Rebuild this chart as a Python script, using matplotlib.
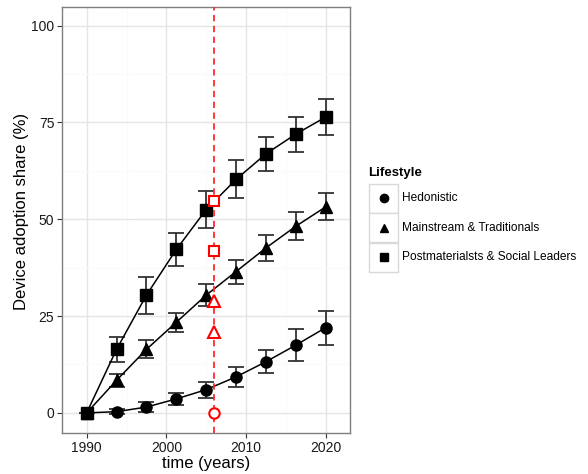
import matplotlib.pyplot as plt
import numpy as np

plt.rcParams['font.family'] = ['Liberation Sans', 'DejaVu Sans']

years = [1990, 1993.75, 1997.5, 2001.25, 2005, 2008.75, 2012.5, 2016.25, 2020]

hedonistic = [0, 0.3, 1.5, 3.6, 6.0, 9.3, 13.2, 17.5, 22.0]
hedonistic_err = [0, 0.6, 1.2, 1.6, 2.1, 2.5, 3.0, 4.1, 4.4]

mainstream = [0, 8.4, 16.4, 23.4, 30.4, 36.5, 42.6, 48.2, 53.2]
mainstream_err = [0, 1.7, 2.3, 2.5, 2.8, 3.1, 3.4, 3.6, 3.5]

postmat = [0, 16.4, 30.4, 42.2, 52.5, 60.3, 66.9, 72.0, 76.4]
postmat_err = [0, 3.3, 4.8, 4.2, 4.7, 4.9, 4.4, 4.5, 4.6]

labels = ["Hedonistic", "Mainstream & Traditionals", "Postmaterialsts & Social Leaders"]
markers = ["o", "^", "s"]

# open red markers on the cut-off line
cut_year = 2006
red_circle = [0]
red_triangle = [28.9, 21.0]
red_square = [54.7, 41.7]

fig = plt.figure(figsize=(5.88, 4.74), dpi=100)
ax = fig.add_axes([0.1054, 0.0865, 0.4898, 0.8985])

series = [(hedonistic, hedonistic_err), (mainstream, mainstream_err), (postmat, postmat_err)]
sizes = [8, 8.5, 8]
for (vals, errs), m, lab, ms in zip(series, markers, labels, sizes):
    ax.errorbar(years, vals, yerr=errs, fmt="none", ecolor="#333333",
                elinewidth=1.3, capsize=5.5, capthick=1.3, zorder=3)
    ax.plot(years, vals, color="black", lw=1.1, zorder=4)
    ax.plot(years, vals, ls="none", marker=m, ms=ms, color="black", zorder=5)

ax.axvline(cut_year, color="#ff2a2a", ls=(0, (3.5, 2.5)), lw=1.3, zorder=6)
ax.plot([cut_year] * len(red_circle), red_circle, ls="none", marker="o", ms=7.5,
        mfc="white", mec="red", mew=1.5, zorder=7)
ax.plot([cut_year] * len(red_triangle), red_triangle, ls="none", marker="^", ms=8,
        mfc="white", mec="red", mew=1.5, zorder=7)
ax.plot([cut_year] * len(red_square), red_square, ls="none", marker="s", ms=7.5,
        mfc="white", mec="red", mew=1.5, zorder=7)

ax.set_xlim(1986.9, 2023.05)
ax.set_ylim(-5.2, 104.8)
ax.set_xticks([1990, 2000, 2010, 2020])
ax.set_yticks([0, 25, 50, 75, 100])
ax.set_xticks([1995, 2005, 2015], minor=True)
ax.set_yticks([12.5, 37.5, 62.5, 87.5], minor=True)
ax.grid(which="major", color="#e5e5e5", lw=1.0)
ax.grid(which="minor", color="#fafafa", lw=1.0)
ax.set_axisbelow(True)
ax.tick_params(which="major", length=3.5, width=0.8, color="#333333",
               labelsize=10, labelcolor="#1a1a1a", pad=2)
ax.tick_params(which="minor", length=0)
for s in ax.spines.values():
    s.set_color("#7f7f7f")
    s.set_linewidth(1.0)

ax.set_xlabel("time (years)", fontsize=12, labelpad=1)
ax.set_ylabel("Device adoption share (%)", fontsize=12)
ax.yaxis.set_label_coords(-0.115, 0.52)

# legend drawn like ggplot keys
fig.text(368 / 588, 1 - 173 / 474, "Lifestyle", fontsize=9.5, fontweight="bold",
         va="center", ha="left")
key_w, key_h = 29 / 588, 29 / 474
for i, (m, lab) in enumerate(zip(markers, labels)):
    top = 184 + i * 29.3
    x0 = 369 / 588
    y0 = 1 - (top + 29) / 474
    fig.patches.append(plt.Rectangle((x0, y0), key_w, key_h, transform=fig.transFigure,
                                     facecolor="white", edgecolor="#d9d9d9", lw=1.0))
    fig.add_artist(plt.Line2D([x0 + key_w / 2], [y0 + key_h / 2], marker=m, ms=6,
                              color="black", transform=fig.transFigure))
    fig.text(402 / 588, y0 + key_h / 2, lab, fontsize=8.6, va="center", ha="left")

plt.savefig("out.png", dpi=100, facecolor="white")
plt.close()
